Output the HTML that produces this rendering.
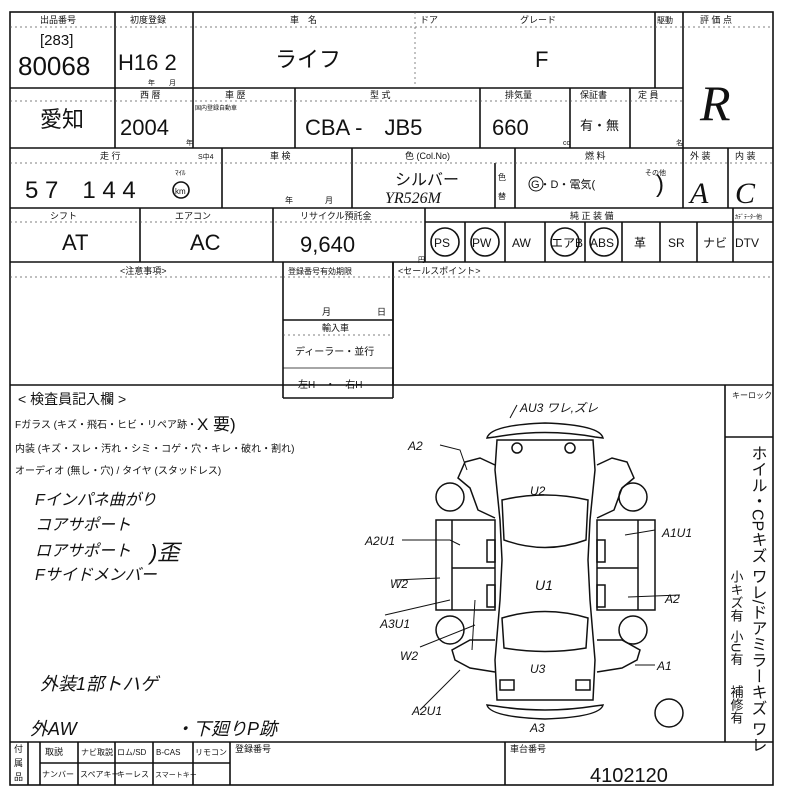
<!DOCTYPE html>
<html><head><meta charset="utf-8"><style>
html,body{margin:0;padding:0;background:#fff}
svg{display:block}
text{font-family:"Liberation Sans","Noto Sans CJK JP",sans-serif;fill:#111}
.s{font-size:9px}
.m{font-size:15px}
.b{font-size:22px}
.h{font-family:"Liberation Serif","Noto Sans CJK JP",serif;font-style:italic}
</style></head><body>
<svg width="800" height="800" viewBox="0 0 800 800" xmlns="http://www.w3.org/2000/svg">
<g stroke="#111" stroke-width="1.6" fill="none">
<rect x="10" y="12" width="763" height="773"/>
<line x1="10" y1="88" x2="683" y2="88"/>
<line x1="10" y1="148" x2="773" y2="148"/>
<line x1="10" y1="208" x2="773" y2="208"/>
<line x1="10" y1="262" x2="773" y2="262"/>
<line x1="10" y1="385" x2="773" y2="385"/>
<line x1="10" y1="742" x2="773" y2="742"/>
<line x1="115" y1="12" x2="115" y2="148"/>
<line x1="193" y1="12" x2="193" y2="88"/>
<line x1="655" y1="12" x2="655" y2="88"/>
<line x1="683" y1="12" x2="683" y2="208"/>
<line x1="193" y1="88" x2="193" y2="148"/>
<line x1="295" y1="88" x2="295" y2="148"/>
<line x1="480" y1="88" x2="480" y2="148"/>
<line x1="570" y1="88" x2="570" y2="148"/>
<line x1="630" y1="88" x2="630" y2="148"/>
<line x1="222" y1="148" x2="222" y2="208"/>
<line x1="352" y1="148" x2="352" y2="208"/>
<line x1="495" y1="163" x2="495" y2="208"/>
<line x1="515" y1="148" x2="515" y2="208"/>
<line x1="728" y1="148" x2="728" y2="208"/>
<line x1="140" y1="208" x2="140" y2="262"/>
<line x1="273" y1="208" x2="273" y2="262"/>
<line x1="425" y1="208" x2="425" y2="262"/>
<line x1="425" y1="222" x2="773" y2="222"/>
<line x1="465" y1="222" x2="465" y2="262"/>
<line x1="505" y1="222" x2="505" y2="262"/>
<line x1="545" y1="222" x2="545" y2="262"/>
<line x1="585" y1="222" x2="585" y2="262"/>
<line x1="622" y1="222" x2="622" y2="262"/>
<line x1="660" y1="222" x2="660" y2="262"/>
<line x1="697" y1="222" x2="697" y2="262"/>
<line x1="733" y1="208" x2="733" y2="262"/>
<line x1="283" y1="262" x2="283" y2="398"/>
<line x1="393" y1="262" x2="393" y2="385"/>
<line x1="283" y1="320" x2="393" y2="320"/>
<line x1="283" y1="398" x2="393" y2="398"/>
<line x1="393" y1="262" x2="393" y2="398"/>
<line x1="283" y1="368" x2="393" y2="368" stroke-width="0.8"/>
<line x1="725" y1="385" x2="725" y2="742"/>
<line x1="725" y1="437" x2="773" y2="437"/>
<line x1="28" y1="742" x2="28" y2="785"/>
<line x1="40" y1="763" x2="230" y2="763"/>
<line x1="40" y1="742" x2="40" y2="785"/>
<line x1="78" y1="742" x2="78" y2="785"/>
<line x1="115" y1="742" x2="115" y2="785"/>
<line x1="153" y1="742" x2="153" y2="785"/>
<line x1="193" y1="742" x2="193" y2="785"/>
<line x1="230" y1="742" x2="230" y2="785"/>
<line x1="505" y1="742" x2="505" y2="785"/>
<circle cx="445" cy="242" r="14"/>
<circle cx="485" cy="242" r="14"/>
<circle cx="565" cy="242" r="14"/>
<circle cx="604" cy="242" r="14"/>
<circle cx="181" cy="190" r="8"/>
<circle cx="536" cy="184" r="7" stroke-width="1"/>
</g>
<g stroke="#555" stroke-width="0.7" stroke-dasharray="2,3" fill="none">
<line x1="10" y1="27" x2="683" y2="27"/>
<line x1="10" y1="101" x2="683" y2="101"/>
<line x1="10" y1="163" x2="773" y2="163"/>
<line x1="10" y1="222" x2="425" y2="222"/>
<line x1="10" y1="277" x2="283" y2="277"/>
<line x1="393" y1="277" x2="773" y2="277"/>
<line x1="283" y1="277" x2="393" y2="277"/>
<line x1="283" y1="335" x2="393" y2="335"/>
<line x1="683" y1="27" x2="773" y2="27"/>
<line x1="415" y1="12" x2="415" y2="88"/>
</g>
<g class="s">
<text x="40" y="23">出品番号</text>
<text x="130" y="23">初度登録</text>
<text x="290" y="23">車　名</text>
<text x="420" y="23">ドア</text>
<text x="520" y="23">グレード</text>
<text x="657" y="23" font-size="8">駆動</text>
<text x="700" y="23">評 価 点</text>
<text x="140" y="98">西 暦</text>
<text x="225" y="98">車 歴</text>
<text x="370" y="98">型 式</text>
<text x="505" y="98">排気量</text>
<text x="580" y="98">保証書</text>
<text x="638" y="98">定 員</text>
<text x="195" y="110" font-size="6">国内登録自動車</text>
<text x="100" y="159">走 行</text>
<text x="198" y="159" font-size="7">S中4</text>
<text x="270" y="159">車 検</text>
<text x="405" y="159">色 (Col.No)</text>
<text x="585" y="159">燃 料</text>
<text x="690" y="159">外 装</text>
<text x="735" y="159">内 装</text>
<text x="50" y="219">シフト</text>
<text x="175" y="219">エアコン</text>
<text x="300" y="219">リサイクル預託金</text>
<text x="570" y="219">純 正 装 備</text>
<text x="735" y="219" font-size="6">ｶﾃﾞﾃｰﾀｰ他</text>
<text x="120" y="274">&lt;注意事項&gt;</text>
<text x="288" y="274" font-size="8">登録番号有効期限</text>
<text x="398" y="274">&lt;セールスポイント&gt;</text>
<text x="322" y="315">月</text><text x="377" y="315">日</text>
<text x="322" y="331">輸入車</text>
<text x="295" y="355" font-size="10">ディーラー・並行</text>
<text x="298" y="388" font-size="10">左H　・　右H</text>
<text x="148" y="85" font-size="7">年　　月</text>
<text x="186" y="145" font-size="7">年</text>
<text x="563" y="145" font-size="7">cc</text>
<text x="676" y="145" font-size="7">名</text>
<text x="175" y="175" font-size="7">ﾏｲﾙ</text>
<text x="285" y="203" font-size="8">年　　　　月</text>
<text x="498" y="180" font-size="8">色</text><text x="498" y="199" font-size="8">替</text>
<text x="645" y="175" font-size="7">その他</text>
<text x="418" y="262" font-size="7">円</text>
<text x="732" y="398" font-size="8">キーロック</text>
<text x="45" y="755">取説</text><text x="81" y="755" font-size="8">ナビ取説</text><text x="117" y="755" font-size="8">ロム/SD</text><text x="156" y="755" font-size="8">B-CAS</text><text x="195" y="755" font-size="8">リモコン</text>
<text x="42" y="777" font-size="8">ナンバー</text><text x="80" y="777" font-size="8">スペアキー</text><text x="117" y="777" font-size="8">キーレス</text><text x="155" y="777" font-size="7">スマートキー</text>
<text x="235" y="752">登録番号</text>
<text x="510" y="752">車台番号</text>
</g>
<text x="14" y="752" class="s" font-size="8">付</text><text x="14" y="766" class="s" font-size="8">属</text><text x="14" y="780" class="s" font-size="8">品</text>
<text x="40" y="45" class="m">[283]</text>
<text x="18" y="75" font-size="26">80068</text>
<text x="118" y="70" class="b">H16 2</text>
<text x="275" y="67" class="b">ライフ</text>
<text x="535" y="67" class="b">F</text>
<text x="40" y="127" class="b">愛知</text>
<text x="120" y="135" class="b">2004</text>
<text x="305" y="135" class="b">CBA -　JB5</text>
<text x="492" y="135" class="b">660</text>
<text x="580" y="130" font-size="13">有・無</text>
<text x="25" y="198" font-size="24">5 7　1 4 4</text>
<text x="175" y="194" font-size="8">km</text>
<text x="395" y="185" font-size="16">シルバー</text>
<text x="385" y="203" font-size="16" class="h">YR526M</text>
<text x="531" y="188" font-size="11">G・D・電気(</text>
<text x="656" y="192" font-size="24">)</text>
<text x="700" y="120" font-size="50" class="h">R</text>
<text x="690" y="203" font-size="30" class="h">A</text>
<text x="735" y="203" font-size="30" class="h">C</text>
<text x="62" y="250" class="b">AT</text>
<text x="190" y="250" class="b">AC</text>
<text x="300" y="252" class="b">9,640</text>
<g font-size="12"><text x="434" y="247">PS</text><text x="472" y="247">PW</text><text x="512" y="247">AW</text><text x="551" y="247">エアB</text><text x="590" y="247">ABS</text><text x="634" y="247">革</text><text x="668" y="247">SR</text><text x="703" y="247">ナビ</text><text x="735" y="247">DTV</text></g>
<text x="18" y="404" font-size="14">&lt; 検査員記入欄 &gt;</text>
<g font-size="10"><text x="15" y="428">Fガラス (キズ・飛石・ヒビ・リペア跡・</text><text x="15" y="452">内装 (キズ・スレ・汚れ・シミ・コゲ・穴・キレ・破れ・割れ)</text><text x="15" y="474">オーディオ (無し・穴) / タイヤ (スタッドレス)</text></g>
<text x="197" y="430" font-size="17">X 要)</text>
<g class="h" font-size="16">
<text x="35" y="505">Fインパネ曲がり</text>
<text x="35" y="530">コアサポート</text>
<text x="35" y="556">ロアサポート</text>
<text x="35" y="580">Fサイドメンバー</text>
<text x="150" y="560" font-size="22">)歪</text>
<text x="40" y="690" font-size="18">外装1部トハゲ</text>
<text x="30" y="735" font-size="18">外AW</text>
<text x="175" y="735" font-size="18">・下廻りP跡</text>
</g>
<g stroke="#111" stroke-width="1.5" fill="none">
<path d="M487 438 Q490 425 545 423 Q600 425 603 438 L595 437 Q545 428 495 437 Z"/>
<path d="M487 705 Q490 717 545 719 Q600 717 603 705 L595 706 Q545 714 495 706 Z"/>
<path d="M497 440 L593 440 L595 470 L590 520 L588 560 L590 600 L595 660 L593 700 L497 700 L495 660 L500 600 L502 560 L500 520 L495 470 Z"/>
<path d="M502 500 Q545 490 588 500 L586 540 Q545 555 504 540 Z"/>
<path d="M502 618 Q545 605 588 618 L586 648 Q545 655 504 648 Z"/>
<circle cx="517" cy="448" r="5"/><circle cx="570" cy="448" r="5"/>
<rect x="500" y="680" width="14" height="10"/><rect x="576" y="680" width="14" height="10"/>
<rect x="436" y="520" width="59" height="90"/><line x1="452" y1="520" x2="452" y2="610"/><line x1="452" y1="568" x2="495" y2="568"/>
<rect x="597" y="520" width="58" height="90"/><line x1="638" y1="520" x2="638" y2="610"/><line x1="597" y1="568" x2="638" y2="568"/>
<rect x="487" y="540" width="8" height="22"/><rect x="487" y="585" width="8" height="22"/>
<rect x="597" y="540" width="8" height="22"/><rect x="597" y="585" width="8" height="22"/>
<path d="M495 465 L480 458 L465 462 L458 478 L470 488 L478 510 L495 518"/>
<path d="M597 465 L612 458 L627 462 L634 478 L622 488 L614 510 L597 518"/>
<path d="M495 640 L470 640 L452 650 L455 660 L470 668 L495 672"/>
<path d="M597 640 L622 640 L640 650 L637 660 L622 668 L597 672"/>
<circle cx="450" cy="497" r="14"/><circle cx="450" cy="630" r="14"/>
<circle cx="633" cy="497" r="14"/><circle cx="633" cy="630" r="14"/>
<circle cx="669" cy="713" r="14"/>
</g>
<g stroke="#111" stroke-width="1" fill="none">
<path d="M440 445 L460 450 L467 470"/><path d="M402 540 L450 540 L460 545"/><path d="M395 580 L440 578"/><path d="M385 615 L450 600"/><path d="M420 647 L475 625"/><path d="M475 600 L472 650"/><path d="M420 710 L460 670"/><path d="M655 530 L625 535"/><path d="M680 595 L628 597"/><path d="M655 665 L635 665"/><path d="M517 405 L510 418"/>
</g>
<g class="h" font-size="12">
<text x="520" y="412">AU3 ワレ,ズレ</text>
<text x="408" y="450">A2</text>
<text x="530" y="495">U2</text>
<text x="365" y="545">A2U1</text>
<text x="662" y="537">A1U1</text>
<text x="390" y="588">W2</text>
<text x="535" y="590" font-size="14">U1</text>
<text x="665" y="603">A2</text>
<text x="380" y="628">A3U1</text>
<text x="400" y="660">W2</text>
<text x="530" y="673">U3</text>
<text x="657" y="670">A1</text>
<text x="412" y="715">A2U1</text>
<text x="530" y="732">A3</text>
</g>
<text font-size="16" writing-mode="tb" x="757" y="445">ホイル・CPキズ ワレ/ドアミラーキズ ワレ</text>
<text font-size="13" writing-mode="tb" x="736" y="570">小キズ有</text>
<text font-size="13" writing-mode="tb" x="736" y="630">小U有</text>
<text font-size="13" writing-mode="tb" x="736" y="685">補修有</text>
<text x="590" y="782" font-size="20">4102120</text>
</svg>
</body></html>
